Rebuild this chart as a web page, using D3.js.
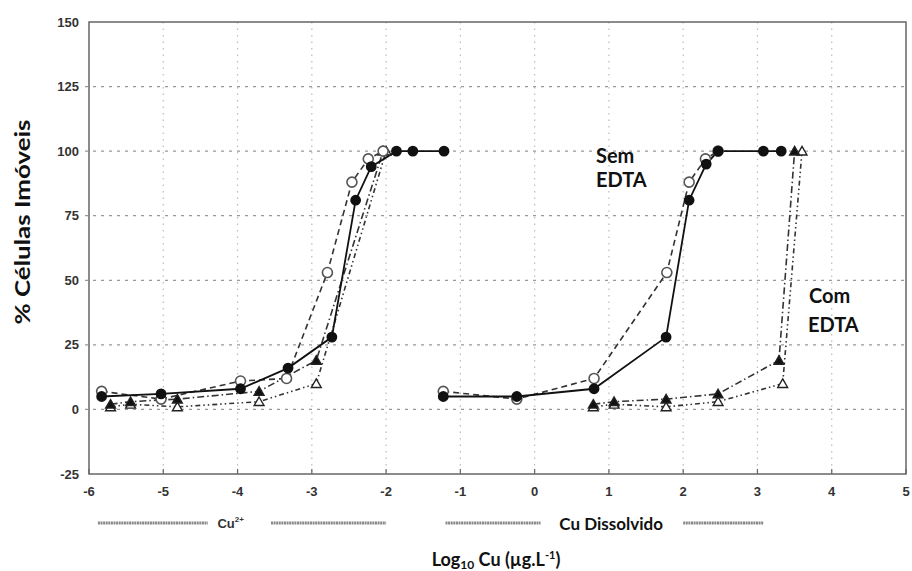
<!DOCTYPE html>
<html>
<head>
<meta charset="utf-8">
<script src="https://cdn.jsdelivr.net/npm/d3@7"></script>
<style>
  body { margin: 0; background: #fff; }
  svg { display: block; }
  .tick-label { font-family: "Liberation Sans", Arial, sans-serif; font-weight: bold; font-size: 13px; fill: #333; }
  .cal { font-family: Lato, "Open Sans", sans-serif; font-weight: bold; fill: #111; }
</style>
</head>
<body>
<div id="chart"></div>
<script>
// data, [log10 Cu, % immobile cells]
// left group = Cu2+ activity, right group = dissolved Cu
var filledCircleLeft  = [[-5.83,5],[-5.03,6],[-3.96,8],[-3.32,16],[-2.73,28],[-2.41,81],[-2.20,94],[-1.86,100],[-1.64,100],[-1.22,100]];
var openCircleLeft    = [[-5.83,7],[-5.03,4],[-3.96,11],[-3.34,12],[-2.79,53],[-2.46,88],[-2.24,97],[-2.04,100]];
var filledTriLeft     = [[-5.71,2],[-5.44,3],[-4.81,4],[-3.71,7],[-2.94,19],[-2.04,100]];
var openTriLeft       = [[-5.71,1],[-5.44,2],[-4.81,1],[-3.71,3],[-2.94,10],[-2.00,100]];

var filledCircleRight = [[-1.23,5],[-0.24,5],[0.80,8],[1.77,28],[2.08,81],[2.31,95],[2.47,100],[3.08,100],[3.32,100]];
var openCircleRight   = [[-1.23,7],[-0.24,4],[0.80,12],[1.78,53],[2.08,88],[2.30,97],[2.47,100]];
var filledTriRight    = [[0.79,2],[1.07,3],[1.77,4],[2.47,6],[3.29,19],[3.50,100]];
var openTriRight      = [[0.79,1],[1.07,2],[1.77,1],[2.47,3],[3.34,10],[3.60,100]];

var xTicks = [-6,-5,-4,-3,-2,-1,0,1,2,3,4,5];
var yTicks = [-25,0,25,50,75,100,125,150];

var W = 912, H = 571;
var margin = {top: 22, right: 4, bottom: 97, left: 89};

var svg = d3.select("#chart").append("svg")
    .attr("width", W)
    .attr("height", H);

var x = d3.scaleLinear().domain([-6, 5]).range([margin.left, W - margin.right - 2]);
var y = d3.scaleLinear().domain([-25, 150]).range([H - margin.bottom, margin.top]);

// grid
svg.append("g").selectAll("line.vg")
  .data(xTicks.slice(1, -1)).enter()
  .append("line")
    .attr("x1", d => x(d)).attr("x2", d => x(d))
    .attr("y1", y(150)).attr("y2", y(-25))
    .attr("stroke", "#bbb").attr("stroke-width", 1.2)
    .attr("stroke-dasharray", "1.5,5");

svg.append("g").selectAll("line.hg")
  .data(yTicks.slice(1, -1)).enter()
  .append("line")
    .attr("x1", x(-6) - 4).attr("x2", x(5))
    .attr("y1", d => y(d)).attr("y2", d => y(d))
    .attr("stroke", "#999").attr("stroke-width", 1.2)
    .attr("stroke-dasharray", "3,5");

// axis labels
svg.append("g").selectAll("text")
  .data(yTicks).enter()
  .append("text")
    .attr("class", "tick-label")
    .attr("x", x(-6) - 10)
    .attr("y", d => y(d) + 4.5)
    .attr("text-anchor", "end")
    .text(d => d);

svg.append("g").selectAll("line")
  .data(xTicks).enter()
  .append("line")
    .attr("x1", d => x(d)).attr("x2", d => x(d))
    .attr("y1", y(-25)).attr("y2", y(-25) - 5)
    .attr("stroke", "#666").attr("stroke-width", 1.2);

svg.append("g").selectAll("text")
  .data(xTicks).enter()
  .append("text")
    .attr("class", "tick-label")
    .attr("x", d => x(d))
    .attr("y", y(-25) + 22)
    .attr("text-anchor", "middle")
    .text(d => d);

// series
var line = d3.line().x(d => x(d[0])).y(d => y(d[1]));

var series = [
  {pts: openTriLeft,  dash: "5,3,1.5,3,1.5,3", mark: "otri"},
  {pts: openTriRight, dash: "5,3,1.5,3,1.5,3", mark: "otri"},
  {pts: filledTriLeft,  dash: "7,3,1.5,3", mark: "ftri"},
  {pts: filledTriRight, dash: "7,3,1.5,3", mark: "ftri"},
  {pts: openCircleLeft,  dash: "6,4", mark: "ocirc"},
  {pts: openCircleRight, dash: "6,4", mark: "ocirc"},
  {pts: filledCircleLeft,  dash: null, mark: "fcirc"},
  {pts: filledCircleRight, dash: null, mark: "fcirc"}
];

series.forEach(function(s) {
  svg.append("path")
    .datum(s.pts)
    .attr("d", line)
    .attr("fill", "none")
    .attr("stroke", s.mark == "fcirc" ? "#111" : "#333")
    .attr("stroke-width", s.mark == "fcirc" ? 1.8 : 1.6)
    .attr("stroke-dasharray", s.dash);
});

var tri = d3.symbol().type(d3.symbolTriangle).size(42);

series.forEach(function(s) {
  var g = svg.append("g");
  if (s.mark == "fcirc" || s.mark == "ocirc") {
    g.selectAll("circle").data(s.pts).enter()
      .append("circle")
        .attr("cx", d => x(d[0])).attr("cy", d => y(d[1]))
        .attr("r", s.mark == "fcirc" ? 4.6 : 5)
        .attr("fill", s.mark == "fcirc" ? "#111" : "#fff")
        .attr("stroke", s.mark == "fcirc" ? "#111" : "#555")
        .attr("stroke-width", 1.6);
  } else {
    g.selectAll("path").data(s.pts).enter()
      .append("path")
        .attr("d", tri)
        .attr("transform", d => "translate(" + x(d[0]) + "," + (y(d[1]) + 1) + ")")
        .attr("fill", s.mark == "ftri" ? "#111" : "#fff")
        .attr("stroke", "#222")
        .attr("stroke-width", 1.4);
  }
});

// frame
svg.append("rect")
  .attr("x", x(-6)).attr("y", y(150))
  .attr("width", x(5) - x(-6)).attr("height", y(-25) - y(150))
  .attr("fill", "none")
  .attr("stroke", "#666").attr("stroke-width", 1.5);

// annotations
var ann = svg.append("g").attr("class", "cal").style("font-size", "20px");
ann.append("text").attr("x", 596).attr("y", 163).text("Sem");
ann.append("text").attr("x", 596).attr("y", 187).text("EDTA");
ann.append("text").attr("x", 809).attr("y", 303).text("Com");
ann.append("text").attr("x", 808).attr("y", 332).text("EDTA");

// bracket lines under the axis
var brY = 523;
var brackets = [[-5.88,-4.4],[-3.55,-2.0],[-1.2,0.08],[2.0,3.08]];
svg.append("g").selectAll("line")
  .data(brackets).enter()
  .append("line")
    .attr("x1", d => x(d[0])).attr("x2", d => x(d[1]))
    .attr("y1", brY).attr("y2", brY)
    .attr("stroke", "#888").attr("stroke-width", 3)
    .attr("stroke-dasharray", "2,0.6");

var cu = svg.append("text")
  .attr("class", "tick-label")
  .attr("x", x(-4.27)).attr("y", brY + 5)
  .style("font-size", "13px");
cu.append("tspan").text("Cu");
cu.append("tspan").attr("dy", -6).style("font-size", "8px").text("2+");

svg.append("text")
  .attr("class", "cal")
  .attr("x", x(1.03)).attr("y", brY + 7)
  .attr("text-anchor", "middle")
  .style("font-size", "17px")
  .text("Cu Dissolvido");

var xt = svg.append("text")
  .attr("class", "cal")
  .attr("x", 496).attr("y", 566)
  .attr("text-anchor", "middle")
  .style("font-size", "18px");
xt.append("tspan").text("Log");
xt.append("tspan").attr("dy", 3).style("font-size", "12px").text("10");
xt.append("tspan").attr("dy", -3).text(" Cu (µg.L");
xt.append("tspan").attr("dy", -7).style("font-size", "11px").text("-1");
xt.append("tspan").attr("dy", 7).text(")");

svg.append("text")
  .attr("class", "cal")
  .attr("transform", "translate(30," + 222 + ") rotate(-90)")
  .attr("text-anchor", "middle")
  .attr("textLength", 205)
  .attr("lengthAdjust", "spacingAndGlyphs")
  .style("font-size", "20px")
  .text("% Células Imóveis");
</script>
</body>
</html>
